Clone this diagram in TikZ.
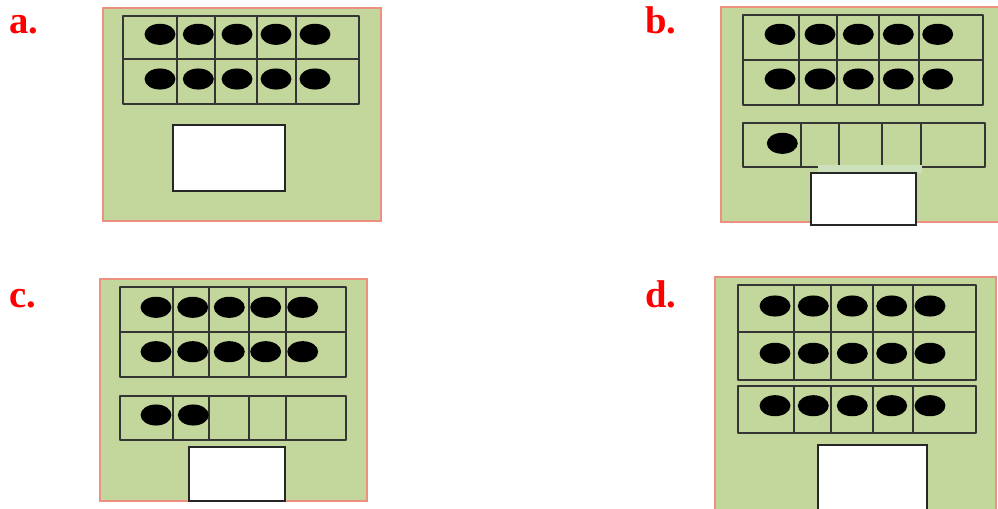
\documentclass[tikz,border=0pt]{standalone}
\usepackage{fontspec}
\setmainfont{Liberation Serif}[BoldFont={Liberation Serif Bold}]
\definecolor{panelgreen}{HTML}{C3D69B}
\definecolor{paneledge}{HTML}{EE9080}
\definecolor{gridline}{HTML}{353535}
\definecolor{halo}{HTML}{CCE0BC}
\tikzset{
  panel/.style={fill=panelgreen, draw=paneledge, line width=1.3pt},
  frameline/.style={draw=gridline, line width=1.6pt, line join=round},
  answerbox/.style={fill=white, draw=black!85, line width=1.3pt},
  counter/.style={fill=black},
  letter/.style={text=red, font=\bfseries\fontsize{29}{29}\selectfont, anchor=base west, inner sep=0pt}
}
\newcommand\tfdot[2]{\fill[counter] (#1,#2) ellipse [x radius=11.6pt, y radius=7.9pt];}
\begin{document}
\begin{tikzpicture}[x=0.75pt,y=-0.75pt]
\useasboundingbox (0,0) rectangle (998,508);
\clip (0,0) rectangle (998,508);

% ---------- a ----------
\node[letter] (la) at (9,33) {a.};
\draw[panel] (102.7,8.3) rectangle (381,220.7);
\draw[frameline] (122.7,15.7) rectangle (359.3,104);
\draw[frameline] (122.7,59.3) -- (359.3,59.3);
\foreach \x in {177.3,215,256.7,296} \draw[frameline] (\x,15.7) -- (\x,104);
\foreach \x in {160,198.3,237,276,315} {\tfdot{\x}{34.3}\tfdot{\x}{79}}
\draw[answerbox] (172.7,125) rectangle (285,191);

% ---------- b ----------
\node[letter] (lb) at (645,33) {b.};
\draw[panel] (721,7.3) rectangle (1003,221.7);
\draw[frameline] (742.7,15) rectangle (983.3,105.3);
\draw[frameline] (742.7,60) -- (983.3,60);
\foreach \x in {798.7,836.7,879.3,919.3} \draw[frameline] (\x,15) -- (\x,105.3);
\foreach \x in {780,820,858.3,898.3,937.7} {\tfdot{\x}{34.3}\tfdot{\x}{79}}
\draw[frameline] (743.3,123.3) rectangle (985,167.3);
\foreach \x in {801.3,838.7,882,921} \draw[frameline] (\x,123.3) -- (\x,167.3);
\tfdot{782.3}{143.3}
\fill[halo] (818.3,165) rectangle (921.7,173);
\draw[answerbox] (811,172.7) rectangle (915.7,225);

% ---------- c ----------
\node[letter] (lc) at (9,307) {c.};
\draw[panel] (100,279.3) rectangle (366.7,500.7);
\draw[frameline] (120,287.3) rectangle (345.7,377.3);
\draw[frameline] (120,332.3) -- (345.7,332.3);
\foreach \x in {172.7,209.3,249.3,286} \draw[frameline] (\x,287.3) -- (\x,377.3);
\foreach \x in {156,192.7,229.3,265.7,302.7} {\tfdot{\x}{307.3}\tfdot{\x}{351.7}}
\draw[frameline] (120,395.7) rectangle (345.7,440);
\foreach \x in {172.7,209.3,249.3,286} \draw[frameline] (\x,395.7) -- (\x,440);
\tfdot{156}{415}\tfdot{193.3}{415}
\draw[answerbox] (189,446.7) rectangle (285,500.7);

% ---------- d ----------
\node[letter] (ld) at (645,307) {d.};
\draw[panel] (715,276.7) rectangle (996,515);
\draw[frameline] (738.3,285) rectangle (975.7,380);
\draw[frameline] (738.3,332.3) -- (975.7,332.3);
\foreach \x in {794,831,873.3,913.3} \draw[frameline] (\x,285) -- (\x,380);
\foreach \x in {775,813.3,852.3,891.7,930} {\tfdot{\x}{306}\tfdot{\x}{353.3}}
\draw[frameline] (738.3,385.7) rectangle (975.7,433.3);
\foreach \x in {794,831,873.3,913.3} \draw[frameline] (\x,385.7) -- (\x,433.3);
\foreach \x in {775,813.3,852.3,891.7,930} {\tfdot{\x}{405.7}}
\draw[answerbox] (817.7,445) rectangle (926.7,512);
\end{tikzpicture}
\end{document}
